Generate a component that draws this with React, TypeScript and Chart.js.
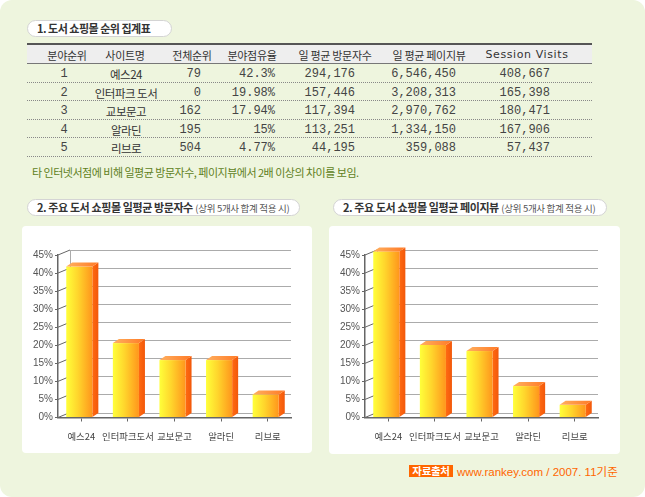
import React, { useEffect, useRef } from 'react';
import { Chart, registerables } from 'chart.js';
Chart.register(...registerables);

// ---------- data ----------
const tableHeaders = ['분야순위', '사이트명', '전체순위', '분야점유율', '일 평균 방문자수', '일 평균 페이지뷰', 'Session Visits'];
const fieldRanks = ['1', '2', '3', '4', '5'];
const siteNames = ['예스24', '인터파크 도서', '교보문고', '알라딘', '리브로'];
const overallRanks = ['79', '0', '162', '195', '504'];
const fieldShares = ['42.3%', '19.98%', '17.94%', '15%', '4.77%'];
const dailyVisitors = ['294,176', '157,446', '117,394', '113,251', '44,195'];
const dailyPageViews = ['6,546,450', '3,208,313', '2,970,762', '1,334,150', '359,088'];
const sessionVisits = ['408,667', '165,398', '180,471', '167,906', '57,437'];

const chartCategories = ['예스24', '인터파크도서', '교보문고', '알라딘', '리브로'];
const visitorShare = [41.8, 20.6, 15.9, 15.9, 6.4];
const pageViewShare = [46.0, 20.1, 18.4, 8.7, 3.5];
const yTickLabels = ['0%', '5%', '10%', '15%', '20%', '25%', '30%', '35%', '40%', '45%'];

const noteText = '타 인터넷서점에 비해 일평균 방문자수, 페이지뷰에서 2배 이상의 차이를 보임.';
const tableTitle = '1. 도서 쇼핑몰 순위 집계표';
const chartTitle1 = '2. 주요 도서 쇼핑몰 일평균 방문자수';
const chartTitle2 = '2. 주요 도서 쇼핑몰 일평균 페이지뷰';
const chartSubTitle = '(상위 5개사 합계 적용 시)';
const sourceLabel = '자료출처';
const sourceText = 'www.rankey.com / 2007. 11기준';

// ---------- layout ----------
const KR = '"Noto Sans CJK KR", "Liberation Sans", sans-serif';
const MONO = '"Liberation Mono", "Noto Sans CJK KR", monospace';
const WALL_DX = 12;
const WALL_DY = 5;
const BAR_DX = 6;
const BAR_DY = 4;

const threeD = {
  id: 'threeD',
  beforeDatasetsDraw(chart: any) {
    const { ctx, chartArea: a, scales } = chart;
    const y = scales.y;
    ctx.save();
    ctx.lineWidth = 1;
    ctx.strokeStyle = '#ababab';
    const line = (x1: number, y1: number, x2: number, y2: number) => {
      ctx.beginPath();
      ctx.moveTo(x1, y1);
      ctx.lineTo(x2, y2);
      ctx.stroke();
    };
    y.ticks.forEach((t: any) => {
      const py = Math.round(y.getPixelForValue(t.value) - WALL_DY) + 0.5;
      line(a.left + WALL_DX, py, a.right, py);
    });
    const wx = Math.round(a.left + WALL_DX) + 0.5;
    line(wx, a.top - WALL_DY, wx, a.bottom - WALL_DY);
    ctx.strokeStyle = '#666';
    y.ticks.forEach((t: any) => {
      const py = y.getPixelForValue(t.value);
      line(a.left, py, a.left + WALL_DX, py - WALL_DY);
    });
    ctx.restore();
  },
  afterDatasetsDraw(chart: any) {
    const { ctx } = chart;
    const meta = chart.getDatasetMeta(0);
    ctx.save();
    meta.data.forEach((el: any) => {
      const { x, y, base, width } = el.getProps(['x', 'y', 'base', 'width'], true);
      const l = x - width / 2 - 2;
      const r = l + width;
      const sg = ctx.createLinearGradient(r, 0, r + BAR_DX, 0);
      sg.addColorStop(0, '#ff6a12');
      sg.addColorStop(1, '#f2580a');
      ctx.fillStyle = sg;
      ctx.beginPath();
      ctx.moveTo(r, y);
      ctx.lineTo(r + BAR_DX, y - BAR_DY);
      ctx.lineTo(r + BAR_DX, base - BAR_DY);
      ctx.lineTo(r, base);
      ctx.closePath();
      ctx.fill();
      const fg = ctx.createLinearGradient(l, 0, r, 0);
      fg.addColorStop(0, '#ffff3a');
      fg.addColorStop(0.45, '#ffd52c');
      fg.addColorStop(1, '#ff961c');
      ctx.fillStyle = fg;
      ctx.fillRect(l, y, width, base - y);
      const tg = ctx.createLinearGradient(l, 0, r + BAR_DX, 0);
      tg.addColorStop(0, '#ffb060');
      tg.addColorStop(1, '#ff7a26');
      ctx.fillStyle = tg;
      ctx.beginPath();
      ctx.moveTo(l, y);
      ctx.lineTo(l + BAR_DX, y - BAR_DY);
      ctx.lineTo(r + BAR_DX, y - BAR_DY);
      ctx.lineTo(r, y);
      ctx.closePath();
      ctx.fill();
    });
    ctx.restore();
  },
};

function BarChart({ values, left, width }: { values: number[]; left: number; width: number }) {
  const ref = useRef<HTMLCanvasElement>(null);
  useEffect(() => {
    const chart = new Chart(ref.current as HTMLCanvasElement, {
      type: 'bar',
      data: {
        labels: chartCategories,
        datasets: [
          {
            data: values,
            backgroundColor: 'rgba(0,0,0,0)',
            borderWidth: 0,
            barPercentage: 0.56,
            categoryPercentage: 1,
          },
        ],
      },
      options: {
        animation: false,
        responsive: false,
        maintainAspectRatio: false,
        devicePixelRatio: 1,
        layout: { padding: { top: 29, right: width - 269, left: 0, bottom: 0 } },
        plugins: { legend: { display: false }, tooltip: { enabled: false } },
        scales: {
          x: {
            grid: { drawOnChartArea: false, drawTicks: true, tickLength: 4, color: '#666', offset: false },
            border: { display: true, color: '#666', width: 1.5 },
            ticks: { font: { family: KR, size: 9.4 }, color: '#444', padding: 9, maxRotation: 0, autoSkip: false },
            afterFit: (s: any) => {
              s.height = 35.5;
            },
          },
          y: {
            min: 0,
            max: 45,
            ticks: {
              stepSize: 5,
              callback: (v: any) => yTickLabels[Math.round(Number(v) / 5)],
              font: { family: '"Liberation Sans", sans-serif', size: 10 },
              color: '#555',
              padding: 2,
            },
            grid: { drawOnChartArea: false, drawTicks: true, tickLength: 3, color: '#666' },
            border: { display: true, color: '#666', width: 1.5 },
            afterFit: (s: any) => {
              s.width = 36;
            },
          },
        },
      },
      plugins: [threeD],
    } as any);
    return () => chart.destroy();
  }, []);
  return (
    <canvas
      ref={ref}
      width={width}
      height={227}
      style={{ position: 'absolute', left, top: 226, width, height: 227 }}
    />
  );
}

const colHeaderCenters = [67, 125, 192, 252, 335, 429, 527];
const colData: { align: 'center' | 'right'; x: number; font: string }[] = [
  { align: 'center', x: 64, font: MONO },
  { align: 'center', x: 126, font: KR },
  { align: 'right', x: 201, font: MONO },
  { align: 'right', x: 275, font: MONO },
  { align: 'right', x: 355, font: MONO },
  { align: 'right', x: 456, font: MONO },
  { align: 'right', x: 550, font: MONO },
];
const rowCenters = [74, 92.5, 111, 129.5, 148];
const rowLines = [82, 100, 119, 137, 156];

function Pill({ left, top, width, children }: any) {
  return (
    <div
      style={{
        position: 'absolute',
        left,
        top,
        width,
        height: 17,
        boxSizing: 'border-box',
        background: '#fff',
        border: '1px solid #d4d4d4',
        borderRadius: 9,
        fontFamily: KR,
        fontSize: 11,
        lineHeight: '15px',
        color: '#333',
        paddingLeft: 9,
        whiteSpace: 'nowrap',
      }}
    >
      {children}
    </div>
  );
}

export default function App() {
  const columns = [fieldRanks, siteNames, overallRanks, fieldShares, dailyVisitors, dailyPageViews, sessionVisits];
  return (
    <div style={{ position: 'absolute', left: 0, top: 0, width: 645, height: 497, background: '#fff', overflow: 'hidden' }}>
      <div style={{ position: 'absolute', left: 0, top: 0, width: 645, height: 497, background: '#eef5de', borderRadius: 12 }} />
      <Pill left={27} top={20} width={145}>
        <span style={{ fontWeight: 'bold', letterSpacing: -0.5 }}>{tableTitle}</span>
      </Pill>
      <div
        style={{
          position: 'absolute',
          left: 27,
          top: 43,
          width: 565,
          height: 21,
          boxSizing: 'border-box',
          background: '#eeeeee',
          borderTop: '2px solid #555',
          borderBottom: '1px solid #777',
        }}
      />
      {tableHeaders.map((h, i) => (
        <div
          key={'h' + i}
          style={{
            position: 'absolute',
            left: colHeaderCenters[i] - 60,
            width: 120,
            top: 45.5,
            height: 18,
            lineHeight: '18px',
            textAlign: 'center',
            fontFamily: i === 6 ? '"DejaVu Sans", sans-serif' : KR,
            fontSize: 11,
            letterSpacing: i === 6 ? 0.6 : -0.3,
            color: '#333',
            whiteSpace: 'nowrap',
          }}
        >
          {h}
        </div>
      ))}
      {rowLines.map((y, i) => (
        <div
          key={'l' + i}
          style={{ position: 'absolute', left: 27, top: y, width: 565, height: 0, borderTop: '1px dotted #888' }}
        />
      ))}
      {columns.map((col, ci) =>
        col.map((v, ri) => {
          const spec = colData[ci];
          return (
            <div
              key={'c' + ci + '_' + ri}
              style={{
                position: 'absolute',
                left: spec.align === 'center' ? spec.x - 60 : spec.x - 120,
                width: 120,
                top: rowCenters[ri] - 9,
                height: 18,
                lineHeight: '18px',
                textAlign: spec.align,
                fontFamily: spec.font,
                fontSize: spec.font === KR ? 11.5 : 12,
                letterSpacing: spec.font === KR ? -0.5 : 0,
                color: spec.font === KR ? '#333' : '#444',
                whiteSpace: 'nowrap',
              }}
            >
              {v}
            </div>
          );
        })
      )}
      <div
        style={{
          position: 'absolute',
          left: 32,
          top: 162.5,
          height: 18,
          lineHeight: '18px',
          fontFamily: KR,
          fontSize: 11,
          letterSpacing: -0.5,
          color: '#5f7f1c',
          whiteSpace: 'nowrap',
        }}
      >
        {noteText}
      </div>
      <Pill left={27} top={199} width={273}>
        <span style={{ fontWeight: 'bold', letterSpacing: -0.4 }}>{chartTitle1}</span>{' '}
        <span style={{ fontSize: 9.5, color: '#555', letterSpacing: -0.3 }}>{chartSubTitle}</span>
      </Pill>
      <Pill left={333} top={199} width={274}>
        <span style={{ fontWeight: 'bold', letterSpacing: -0.4 }}>{chartTitle2}</span>{' '}
        <span style={{ fontSize: 9.5, color: '#555', letterSpacing: -0.3 }}>{chartSubTitle}</span>
      </Pill>
      <div style={{ position: 'absolute', left: 22, top: 226, width: 290, height: 227, background: '#fff', borderRadius: 4 }} />
      <div style={{ position: 'absolute', left: 329, top: 226, width: 291, height: 228, background: '#fff', borderRadius: 4 }} />
      <BarChart values={visitorShare} left={22} width={290} />
      <BarChart values={pageViewShare} left={329} width={291} />
      <div
        style={{
          position: 'absolute',
          left: 409,
          top: 465,
          width: 44,
          height: 12,
          background: '#ff6600',
          color: '#fff',
          fontFamily: KR,
          fontWeight: 'bold',
          fontSize: 10.5,
          lineHeight: '12px',
          textAlign: 'center',
          letterSpacing: -0.3,
          whiteSpace: 'nowrap',
        }}
      >
        {sourceLabel}
      </div>
      <div
        style={{
          position: 'absolute',
          left: 457,
          top: 462.5,
          height: 18,
          lineHeight: '18px',
          fontFamily: '"Liberation Sans", "Noto Sans CJK KR", sans-serif',
          fontSize: 11.5,
          color: '#ff6600',
          whiteSpace: 'nowrap',
        }}
      >
        {sourceText}
      </div>
    </div>
  );
}
